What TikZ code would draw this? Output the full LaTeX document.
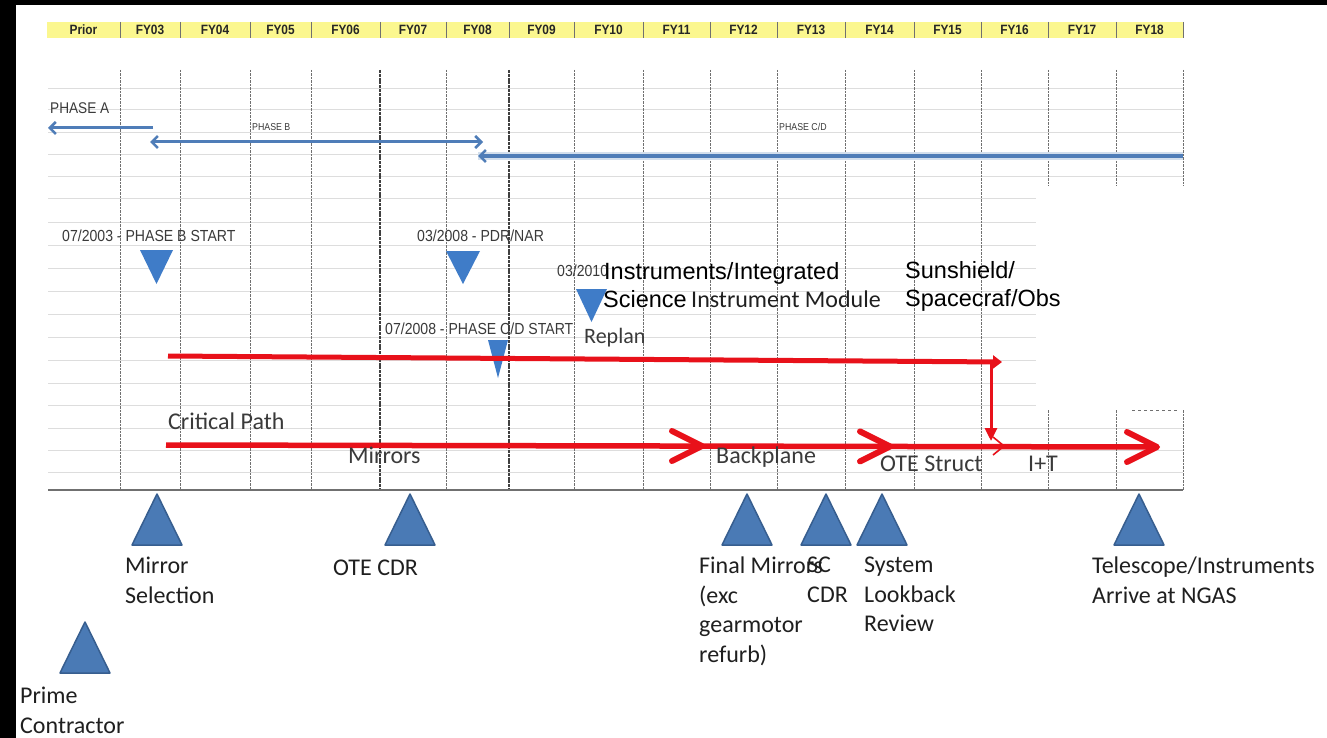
\documentclass[tikz,border=0pt]{standalone}
\usepackage{fontspec}
\setmainfont{Liberation Sans}
\newfontfamily\narrowf{Liberation Sans}[FakeStretch=0.88]
\newfontfamily\calf{Carlito}
\usetikzlibrary{arrows.meta}
\definecolor{hdr}{HTML}{FBF78F}
\definecolor{phaseblue}{HTML}{4F7DB8}
\definecolor{msblue}{HTML}{3F7CC8}
\definecolor{tri}{HTML}{4A7AB5}
\definecolor{triedge}{HTML}{375E8F}
\definecolor{cpred}{HTML}{E8111A}
\definecolor{gridh}{HTML}{DDDDDD}
\definecolor{gridv}{HTML}{707070}
\definecolor{txtgray}{HTML}{3A3A3A}
\begin{document}
\begin{tikzpicture}[x=1pt,y=-1pt,
  hdrlabel/.style={font=\narrowf\bfseries\fontsize{13.5}{15}\selectfont, text=black!85, inner sep=0pt, anchor=base},
  hdrsep/.style={draw=gridv, line width=0.9pt},
  vgrid/.style={draw=gridv, line width=0.8pt, dash pattern=on 2.5pt off 1pt},
  vgridbold/.style={draw=black!75, line width=1.3pt, dash pattern=on 3pt off 0.8pt},
  hgrid/.style={draw=gridh, line width=1pt},
  phase/.style={draw=phaseblue, line width=3pt},
  phasetip/.style={-{Straight Barb[length=6pt,width=12pt,line width=2.5pt]}},
  smalllabel/.style={font=\narrowf\fontsize{16}{18}\selectfont, text=txtgray, inner sep=0pt, anchor=base west},
  tinylabel/.style={font=\narrowf\fontsize{10}{12}\selectfont, text=txtgray, inner sep=0pt, anchor=base west},
  biglabel/.style={font=\fontsize{23.5}{27}\selectfont, text=black, inner sep=0pt, anchor=base west},
  callabel/.style={font=\calf\fontsize{24}{29.5}\selectfont, text=black!88, inner sep=0pt, anchor=base west},
  multilabel/.style={font=\calf\fontsize{24}{29.5}\selectfont, text=black!88, inner sep=0pt, anchor=north west, align=left, execute at begin node={\rule{0pt}{18pt}}},
  downtri/.style={fill=msblue, draw=none},
  uptri/.style={fill=tri, draw=triedge, line width=1.5pt, line join=round},
  cpline/.style={draw=cpred, line width=5pt},
  chevron/.style={draw=cpred, line width=6pt, line cap=round, line join=round},
]
\useasboundingbox (0,0) rectangle (1327,738);
\fill[white] (0,0) rectangle (1327,738);
\fill[black] (0,0) rectangle (1327,5);
\fill[black] (0,0) rectangle (16,738);

% header bar
\fill[hdr] (47,22) rectangle (1183,38);
\foreach \a/\b/\t [count=\i] in {47/120/Prior,120/180/FY03,180/250/FY04,250/311/FY05,311/380/FY06,380/446/FY07,446/509/FY08,509/574/FY09,574/643/FY10,643/710/FY11,710/777/FY12,777/845/FY13,845/914/FY14,914/981/FY15,981/1048/FY16,1048/1116/FY17,1116/1183/FY18}
  \node[hdrlabel] (h\i) at ({(\a+\b)/2},34.5) {\t};
\foreach \x in {120,180,250,311,380,446,509,574,643,710,777,845,914,981,1048,1116,1183}
  \draw[hdrsep] (\x,22) -- (\x,38);

% horizontal grid
\foreach \y in {89,110,133,155,177}
  \draw[hgrid] (48,\y) -- (1183,\y);
\foreach \y in {199,222,245,268,291,314,337,360,383,405}
  \draw[hgrid] (48,\y) -- (1036,\y);
\foreach \y in {428,450,472}
  \draw[hgrid] (48,\y) -- (1183,\y);

% vertical grid
\foreach \x in {120,180,250,311,446,574,643,710,777,845,914,981}
  \draw[vgrid] (\x,70) -- (\x,490);
\foreach \x in {380,509}
  \draw[vgridbold] (\x,70) -- (\x,490);
\foreach \x in {1048,1116,1183}{
  \draw[vgrid] (\x,70) -- (\x,186);
  \draw[vgrid] (\x,410) -- (\x,490);
}
\draw[gridv, line width=1pt, dash pattern=on 3pt off 3pt] (1132,410) -- (1178,410);

% baseline
\draw[draw=gridv, line width=2pt] (48,490) -- (1183,490);

% phases
\coordinate (pa1) at (153,128); \coordinate (pa2) at (48,128);
\coordinate (pb1) at (150,142); \coordinate (pb2) at (483,142);
\coordinate (pc1) at (1183,156); \coordinate (pc2) at (478,156);
\draw[phase, phasetip] (pa1) -- (pa2);
\draw[phase, {Straight Barb[length=6pt,width=12pt,line width=2.5pt]}-{Straight Barb[length=6pt,width=12pt,line width=2.5pt]}] (pb1) -- (pb2);
\draw[draw=phaseblue!25, line width=8pt] (pc1) -- (pc2);
\draw[phase, line width=3.5pt, phasetip] (pc1) -- (pc2);
\node[smalllabel, font=\narrowf\fontsize{15.5}{18}\selectfont] (phA) at (50,114) {PHASE A};
\node[tinylabel] (phB) at (252,130.5) {PHASE B};
\node[tinylabel] (phC) at (779,130.5) {PHASE C/D};

% milestone down triangles
\node[smalllabel] (m1) at (62,241) {07/2003 - PHASE B START};
\node[smalllabel] (m2) at (417,241) {03/2008 - PDR/NAR};
\node[smalllabel] (m3) at (385,334) {07/2008 - PHASE C/D START};
\node[smalllabel] (m4) at (557,276) {03/2010};
\fill[downtri] (140,250) -- (173,250) -- (156.5,284) -- cycle;
\fill[downtri] (446,251) -- (480,251) -- (463,284) -- cycle;
\fill[downtri] (488,340) -- (508,340) -- (498,378) -- cycle;

% red upper path
\coordinate (ra1) at (168,356); \coordinate (ra2) at (1002,362);
\coordinate (rv1) at (991,362); \coordinate (rv2) at (991,441);
\draw[cpline, -{Triangle[length=9pt,width=13pt]}] (ra1) -- (ra2);
\draw[draw=cpred, line width=3pt, -{Triangle[length=13pt,width=12pt]}] (rv1) -- (rv2);

\fill[downtri] (576,289) -- (607,289) -- (591.5,322) -- cycle;

\node[biglabel] (ins) at (604,279) {Instruments/Integrated};
\node[biglabel] (sci) at (603,307) {Science};
\node[callabel] (im) at ([xshift=4pt]sci.base east) {Instrument Module};
\node[biglabel] (sun) at (905,278) {Sunshield/};
\node[biglabel] (sc) at (905,306) {Spacecraf/Obs};
\node[callabel, font=\calf\fontsize{22}{26}\selectfont, text=txtgray] (rep) at (584,343) {Replan};

% critical path
\coordinate (cp1) at (166,445); \coordinate (cp2) at (1157,447);
\draw[cpline, line width=5.5pt] (cp1) -- (cp2);
\foreach \x/\y in {702/446,890/446.4,1157/447}
  \draw[chevron] (\x-30,\y-15) -- (\x,\y) -- (\x-30,\y+15);
\draw[draw=cpred, line width=1.6pt, line join=round] (993,437) -- (1004,446) -- (993,455);
\node[callabel, text=txtgray] (crit) at (168,429) {Critical Path};
\node[callabel, text=txtgray] (mir) at (348,463) {Mirrors};
\node[callabel, text=txtgray] (bp) at (716,463) {Backplane};
\node[callabel, text=txtgray] (ote) at (880,471) {OTE Struct};
\node[callabel, text=txtgray] (it) at (1028,471) {I+T};

% bottom milestones
\draw[uptri] (157,494) -- (182,545) -- (132,545) -- cycle;
\draw[uptri] (410,494) -- (435,545) -- (385,545) -- cycle;
\draw[uptri] (747,494) -- (772,545) -- (722,545) -- cycle;
\draw[uptri] (826,494) -- (851,545) -- (801,545) -- cycle;
\draw[uptri] (882,494) -- (907,545) -- (857,545) -- cycle;
\draw[uptri] (1139,494) -- (1164,545) -- (1114,545) -- cycle;
\draw[uptri] (85,622) -- (110,673) -- (60,673) -- cycle;

\node[multilabel] (lms) at (125,557) {Mirror\\Selection};
\node[multilabel] (lote) at (333,557) {OTE CDR};
\node[multilabel] (lfm) at (699,557) {Final Mirrors\\(exc\\gearmotor\\refurb)};
\node[multilabel] (lsc) at (807,557) {SC\\CDR};
\node[multilabel] (lsys) at (864,557) {System\\Lookback\\Review};
\node[multilabel] (ltel) at (1092,557) {Telescope/Instruments\\Arrive at NGAS};
\node[multilabel] (lpc) at (20,687) {Prime\\Contractor};
\end{tikzpicture}
\end{document}
